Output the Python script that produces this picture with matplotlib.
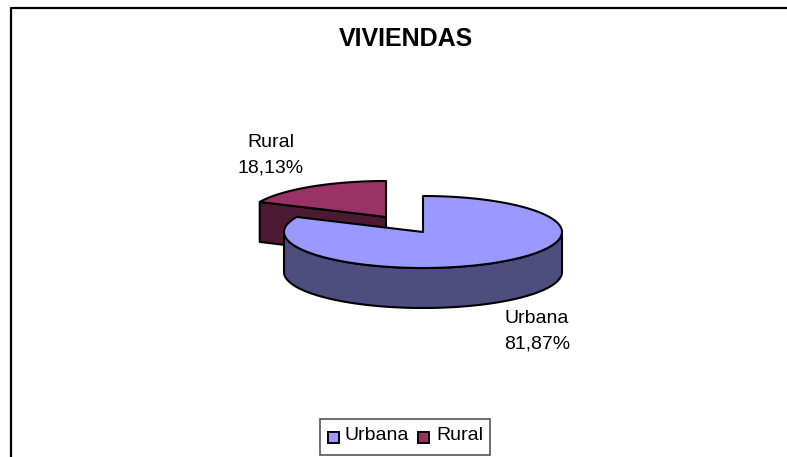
import numpy as np
import matplotlib
matplotlib.use('Agg')
import matplotlib.pyplot as plt

categories = ['Urbana', 'Rural']
values = [81.87, 18.13]
labels = ['81,87%', '18,13%']
title = 'VIVIENDAS'

W, H = 787, 457
colors = {'Urbana': ('#9999FF', '#4D4D80'), 'Rural': ('#993366', '#4D1A33')}
RX, RY, DEPTH = 139, 36, 40

plt.rcParams['font.family'] = ['Liberation Sans', 'DejaVu Sans']
fig = plt.figure(figsize=(W / 100, H / 100), dpi=100)
ax = fig.add_axes([0, 0, 1, 1])
ax.set_xlim(0, W)
ax.set_ylim(H, 0)  # pixel style, y goes down
ax.axis('off')


# angle is measured from the top of the ellipse, clockwise
def arc(cx, cy, a0, a1, n=200):
    t = np.radians(np.linspace(a0, a1, n))
    return cx + RX * np.sin(t), cy - RY * np.cos(t)


def outline(x, y, fc, z):
    ax.fill(x, y, fc=fc, ec='black', lw=1.5, joinstyle='round', zorder=z)


urb_deg = values[0] / sum(values) * 360

# frame, no right side and no bottom in the original
ax.plot([10.5, 10.5, W], [H, 7.5, 7.5], color='black', lw=1.6, zorder=1)

# rural slice, pulled out to the upper left
cx, cy = 386, 217
top, side = colors['Rural']
ax_x, ax_y = arc(cx, cy, urb_deg, 360)
outline([ax_x[0], cx, cx, ax_x[0]], [ax_y[0], cy, cy + DEPTH, ax_y[0] + DEPTH], side, 2)
outline(np.r_[cx, ax_x], np.r_[cy, ax_y], top, 3)

# urbana slice
cx, cy = 423, 232
top, side = colors['Urbana']
rx, ry = arc(cx, cy, 90, 270)
outline(np.r_[rx, rx[::-1]], np.r_[ry, ry[::-1] + DEPTH], side, 4)
ux, uy = arc(cx, cy, 0, urb_deg)
outline(np.r_[cx, ux], np.r_[cy, uy], top, 5)

ax.text(406, 39, title, fontsize=18, fontweight='bold', ha='center', va='center')
ax.text(271, 155, categories[1] + '\n' + labels[1], fontsize=14, ha='center', va='center', linespacing=1.62)
ax.text(537, 331.5, categories[0] + '\n' + labels[0], fontsize=14, ha='center', va='center', linespacing=1.62)

# legend
ax.add_patch(plt.Rectangle((320, 418.5), 170, 36, fc='white', ec='#555555', lw=1.2, zorder=6))
for name, x0, xt in [('Urbana', 328, 345), ('Rural', 418, 436)]:
    ax.add_patch(plt.Rectangle((x0, 431.5), 11, 11, fc=colors[name][0], ec='black', lw=1.4, zorder=7))
    ax.text(xt, 435.5, name, fontsize=14, ha='left', va='center', zorder=7)

fig.savefig('out.png', dpi=100)
